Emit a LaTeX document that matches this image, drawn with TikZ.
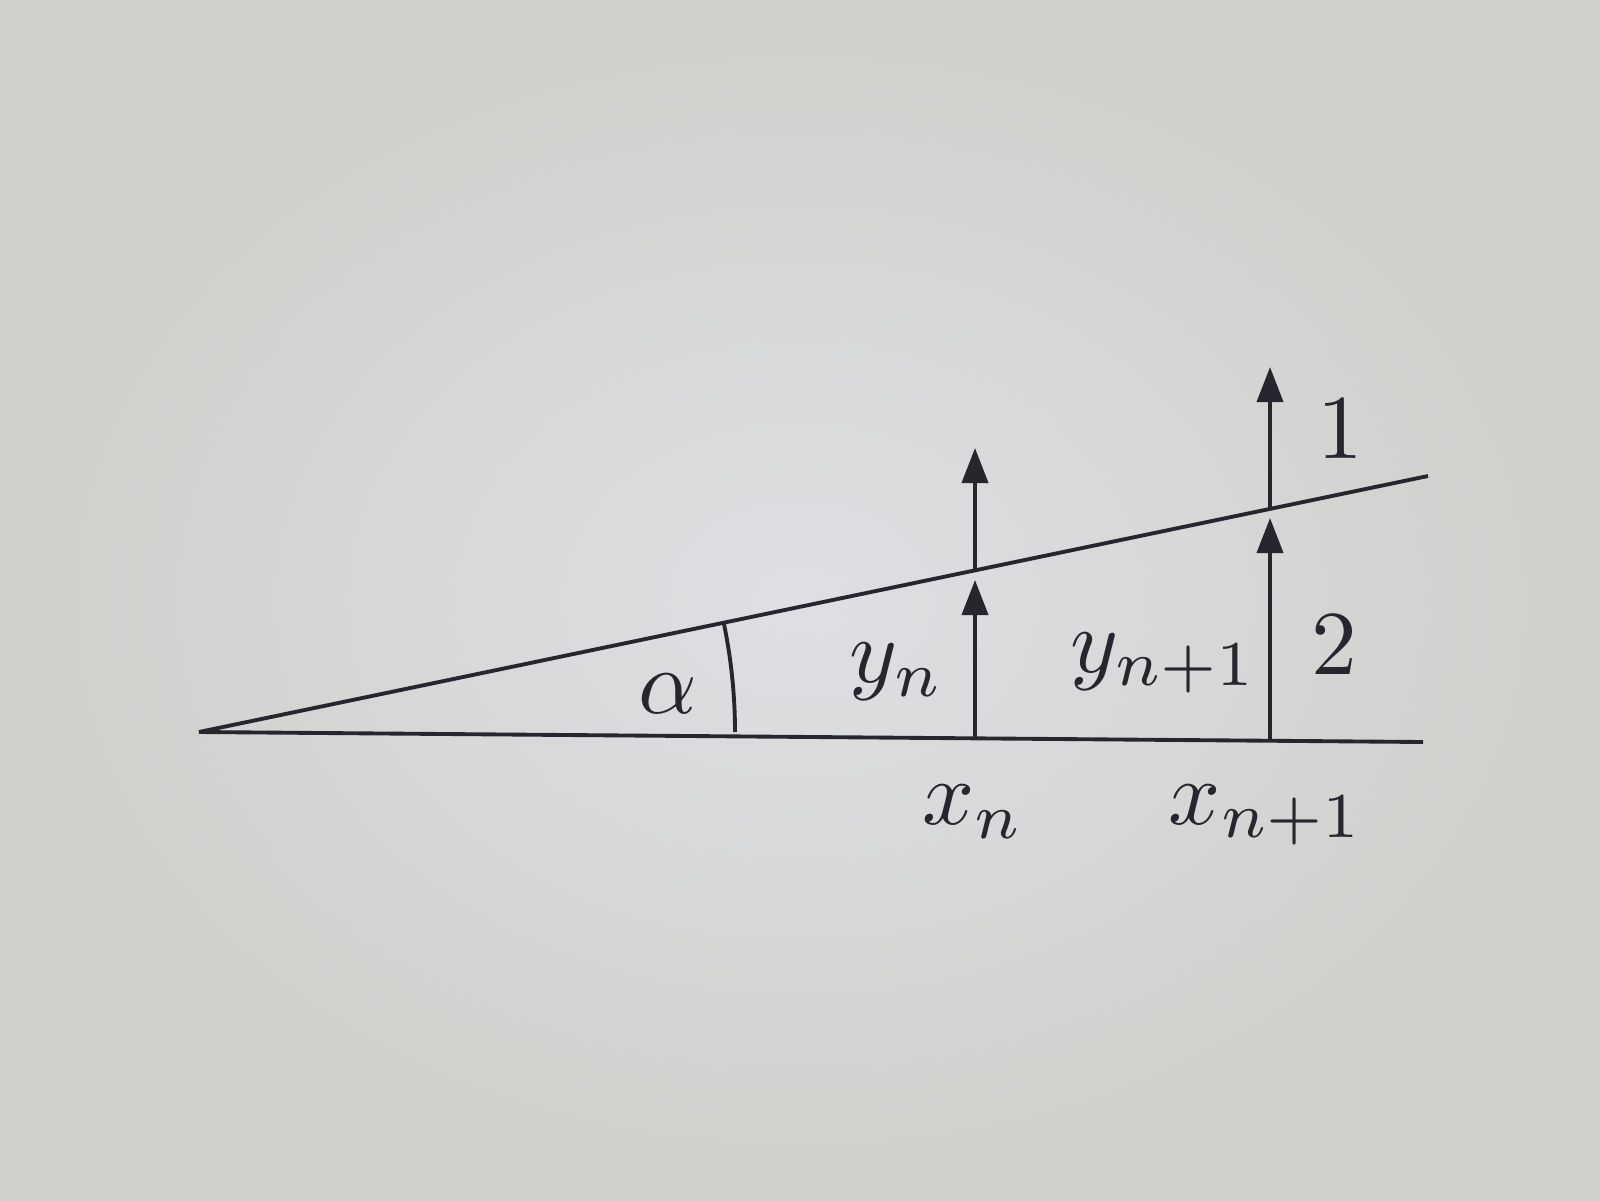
\documentclass[tikz,border=0pt]{standalone}
\usepackage{amsmath}
\usepackage{amssymb}
\usepackage{tikz}
\usetikzlibrary{arrows.meta}

\definecolor{paper}{RGB}{223,223,228}
\definecolor{paperedge}{RGB}{207,208,203}
\definecolor{ink}{RGB}{38,38,46}

\begin{document}
\begin{tikzpicture}[-,semithick,line width=1.1pt,draw=ink,
   tip/.style={-{Triangle[length=3.5mm,width=2.6mm]}}]
   \tikzstyle{every node}=[text=ink,scale=2.6]

   \shade[inner color=paper,outer color=paperedge] (0,0) rectangle (16,12);
   \useasboundingbox (0,0) rectangle (16,12);

   \coordinate (O)  at (1.99,4.68);
   \coordinate (E)  at (14.23,4.58);
   \coordinate (T)  at (14.28,7.24);
   \coordinate (A)  at (9.75,4.62);
   \coordinate (B)  at (12.70,4.59);
   \coordinate (PA) at (9.75,6.30);
   \coordinate (PB) at (12.70,6.90);
   \coordinate (QA) at (9.75,7.52);
   \coordinate (QB) at (12.70,8.33);

   \draw[ink] (O) -- (E);
   \draw[ink] (O) -- (T);
   \draw[ink] ([shift={(0:5.36)}]O) arc (0:11.7:5.36);

   \draw[ink,tip] (A) -- ([yshift=-1mm]PA);
   \draw[ink,tip] (PA) -- (QA);
   \draw[ink,tip] (B) -- ([yshift=-0.8mm]PB);
   \draw[ink,tip] (PB) -- (QB);

   \node (al)  at (6.68,5.06)  {$\alpha$};
   \node (yn)  at (8.97,5.28)  {$y_n$};
   \node (yn1) at (11.64,5.37) {$y_{n+1}$};
   \node (one) at (13.40,7.71) {$1$};
   \node (two) at (13.34,5.55) {$2$};
   \node (xn)  at (9.73,3.88)  {$x_n$};
   \node (xn1) at (12.66,3.85) {$x_{n+1}$};
\end{tikzpicture}
\end{document}
